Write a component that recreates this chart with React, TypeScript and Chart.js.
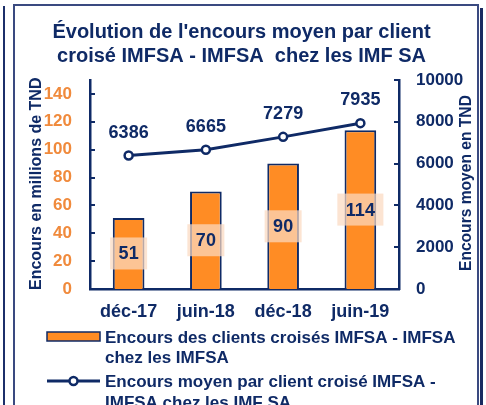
import React, { useEffect, useRef } from 'react';
import { Chart, registerables } from 'chart.js';
Chart.register(...registerables);

const categories = ['déc-17', 'juin-18', 'déc-18', 'juin-19'];
const encoursValues = [51, 70, 90, 114];
const moyenValues = [6386, 6665, 7279, 7935];
const titleLines = ["Évolution de l'encours moyen par client", 'croisé IMFSA - IMFSA  chez les IMF SA'];
const leftAxisTitle = 'Encours en millions de TND';
const rightAxisTitle = 'Encours moyen en TND';
const legendBar = ['Encours des clients croisés IMFSA - IMFSA', 'chez les IMFSA'];
const legendLine = ['Encours moyen par client croisé IMFSA -', 'IMFSA chez les IMF SA'];

const NAVY = '#0f2a66';
const ORANGE = '#ff8c24';
const ORANGE_TICK = '#f08a3c';
const FONT = '"Liberation Sans", Arial, sans-serif';

const decor = {
  id: 'decor',
  beforeDraw(chart: any) {
    const { ctx, width, height } = chart;
    ctx.save();
    ctx.fillStyle = '#ffffff';
    ctx.fillRect(0, 0, width, height);
    ctx.strokeStyle = '#1c2f6a';
    ctx.lineWidth = 2;
    ctx.beginPath();
    ctx.moveTo(4, 6);
    ctx.lineTo(4, height);
    ctx.stroke();
    ctx.strokeStyle = '#3a4a80';
    ctx.lineWidth = 2;
    ctx.beginPath();
    ctx.moveTo(14, height);
    ctx.lineTo(14, 5);
    ctx.lineTo(478, 5);
    ctx.lineTo(478, height);
    ctx.stroke();
    ctx.strokeStyle = '#1a2a60';
    ctx.lineWidth = 3;
    ctx.beginPath();
    ctx.moveTo(481.5, 8);
    ctx.lineTo(481.5, height);
    ctx.stroke();
    ctx.restore();
  },
  afterDatasetsDraw(chart: any) {
    const { ctx, scales, chartArea } = chart;
    const y = scales.y;
    const y1 = scales.y1;
    ctx.save();
    ctx.strokeStyle = NAVY;
    ctx.lineWidth = 2;
    y.ticks.forEach((t: any) => {
      const py = Math.round(y.getPixelForValue(t.value));
      ctx.beginPath();
      ctx.moveTo(chartArea.left, py);
      ctx.lineTo(chartArea.left + 5, py);
      ctx.stroke();
    });
    y1.ticks.forEach((t: any) => {
      const py = Math.round(y1.getPixelForValue(t.value));
      ctx.beginPath();
      ctx.moveTo(chartArea.right - 5, py);
      ctx.lineTo(chartArea.right, py);
      ctx.stroke();
    });
    ctx.font = `bold 18px ${FONT}`;
    ctx.textAlign = 'center';
    ctx.textBaseline = 'middle';
    chart.getDatasetMeta(0).data.forEach((el: any, i: number) => {
      const v = encoursValues[i];
      const txt = String(v);
      const cx = el.x;
      const cy = y.getPixelForValue(v / 2);
      const w = ctx.measureText(txt).width + 17;
      const h = 32;
      ctx.fillStyle = 'rgba(251,218,193,0.72)';
      ctx.fillRect(cx - w / 2, cy - h / 2, w, h);
      ctx.fillStyle = NAVY;
      ctx.fillText(txt, cx, cy + 1);
    });
    ctx.textBaseline = 'alphabetic';
    chart.getDatasetMeta(1).data.forEach((el: any, i: number) => {
      ctx.fillStyle = NAVY;
      ctx.fillText(String(moyenValues[i]), el.x, el.y - 18);
    });
    ctx.restore();
  },
  afterDraw(chart: any) {
    const { ctx } = chart;
    ctx.save();
    ctx.fillStyle = NAVY;
    ctx.font = `bold 20px ${FONT}`;
    ctx.textAlign = 'center';
    ctx.textBaseline = 'alphabetic';
    ctx.fillText(titleLines[0], 241.5, 38);
    ctx.fillText(titleLines[1], 241.5, 62);
    ctx.textAlign = 'left';
    ctx.font = `bold 16px ${FONT}`;
    ctx.save();
    ctx.translate(41, 290);
    ctx.rotate(-Math.PI / 2);
    ctx.fillText(leftAxisTitle, 0, 0);
    ctx.restore();
    ctx.font = `bold 15.6px ${FONT}`;
    ctx.save();
    ctx.translate(470.5, 271);
    ctx.rotate(-Math.PI / 2);
    ctx.fillText(rightAxisTitle, 0, 0);
    ctx.restore();
    ctx.font = `bold 17px ${FONT}`;
    ctx.fillStyle = ORANGE;
    ctx.fillRect(47, 332, 53, 9);
    ctx.strokeStyle = NAVY;
    ctx.lineWidth = 1.5;
    ctx.strokeRect(47, 332, 53, 9);
    ctx.fillStyle = NAVY;
    ctx.fillText(legendBar[0], 105, 343);
    ctx.fillText(legendBar[1], 105, 363);
    ctx.strokeStyle = NAVY;
    ctx.lineWidth = 3;
    ctx.beginPath();
    ctx.moveTo(47, 381);
    ctx.lineTo(100, 381);
    ctx.stroke();
    ctx.beginPath();
    ctx.arc(73.5, 381, 4, 0, Math.PI * 2);
    ctx.fillStyle = '#ffffff';
    ctx.fill();
    ctx.lineWidth = 2.5;
    ctx.stroke();
    ctx.fillStyle = NAVY;
    ctx.fillText(legendLine[0], 105, 387);
    ctx.fillText(legendLine[1], 105, 408);
    ctx.restore();
  },
};

export default function App() {
  const ref = useRef<HTMLCanvasElement | null>(null);
  useEffect(() => {
    if (!ref.current) return;
    const chart = new Chart(ref.current, {
      type: 'bar',
      data: {
        labels: categories,
        datasets: [
          {
            type: 'bar',
            label: legendBar.join(' '),
            data: encoursValues,
            backgroundColor: ORANGE,
            borderColor: NAVY,
            borderWidth: 2,
            yAxisID: 'y',
            order: 1,
            barPercentage: 0.41,
            categoryPercentage: 1,
          },
          {
            type: 'line',
            label: legendLine.join(' '),
            data: moyenValues,
            borderColor: NAVY,
            borderWidth: 3,
            pointRadius: 4,
            pointBorderWidth: 2.5,
            pointBackgroundColor: '#ffffff',
            pointBorderColor: NAVY,
            yAxisID: 'y1',
            order: 0,
          },
        ] as any,
      },
      options: {
        responsive: false,
        animation: false,
        devicePixelRatio: 1,
        layout: { padding: { left: 20, right: 12, top: 80, bottom: 76 } },
        plugins: { legend: { display: false }, title: { display: false }, tooltip: { enabled: false } },
        scales: {
          x: {
            grid: { display: false, drawTicks: false },
            border: { display: true, color: NAVY, width: 2.5 },
            ticks: { color: NAVY, font: { family: FONT, size: 18, weight: 'bold' }, padding: 12, maxRotation: 0 },
            afterFit: (s: any) => { s.height = 40; },
          },
          y: {
            position: 'left',
            min: 0,
            max: 150,
            grid: { display: false, drawTicks: false },
            border: { display: true, color: NAVY, width: 2.5 },
            ticks: { stepSize: 20, includeBounds: false, color: ORANGE_TICK, font: { family: FONT, size: 17, weight: 'bold' }, padding: 18, callback: (v: any) => String(v) },
            afterFit: (s: any) => { s.width = 70; },
          },
          y1: {
            position: 'right',
            min: 0,
            max: 10000,
            grid: { display: false, drawTicks: false },
            border: { display: true, color: NAVY, width: 2.5 },
            ticks: { stepSize: 2000, color: NAVY, font: { family: FONT, size: 17, weight: 'bold' }, padding: 17, callback: (v: any) => String(v) },
            afterFit: (s: any) => { s.width = 75; },
          },
        },
      } as any,
      plugins: [decor],
    });
    return () => chart.destroy();
  }, []);
  return (
    <div style={{ position: 'fixed', left: 0, top: 0, width: 486, height: 405, overflow: 'hidden' }}>
      <canvas ref={ref} width={486} height={405} />
    </div>
  );
}
